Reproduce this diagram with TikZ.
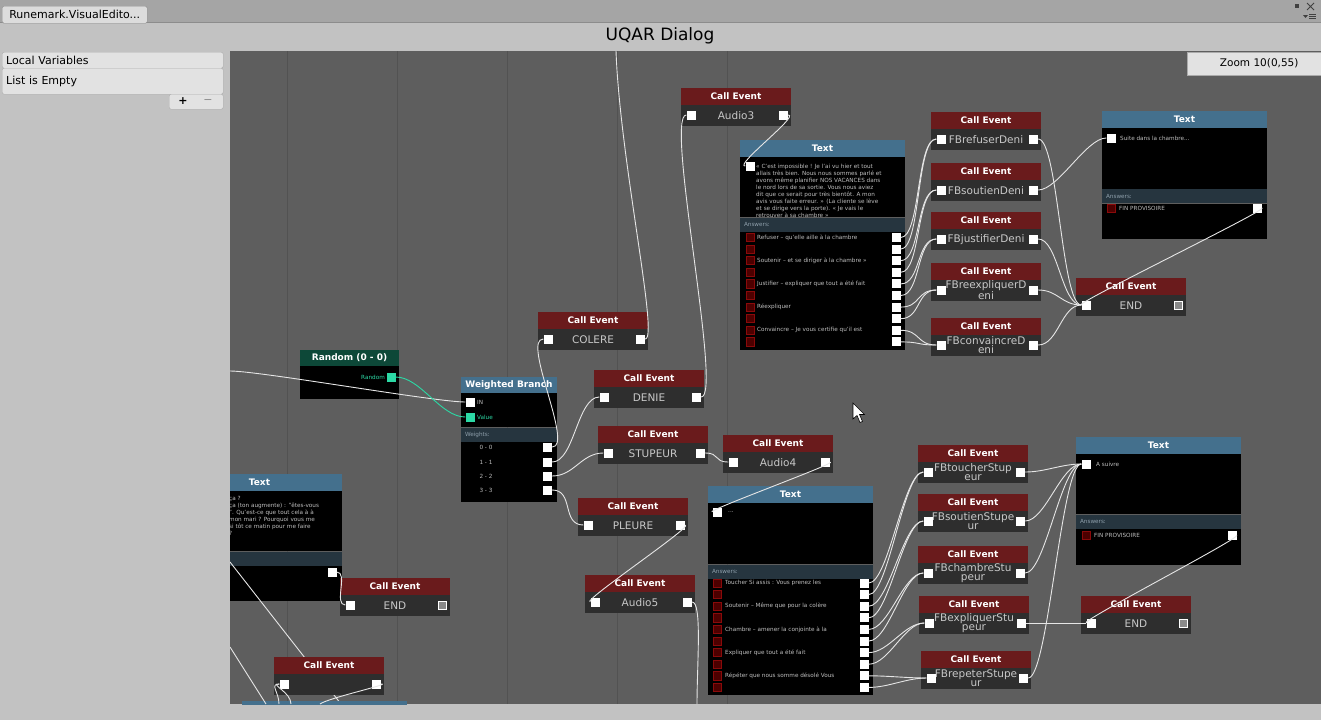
\documentclass[tikz,border=0pt]{standalone}
\usepackage{fontspec}
\setmainfont{DejaVu Sans}
\usetikzlibrary{positioning}

\definecolor{winbg}{HTML}{C2C2C2}
\definecolor{tabbar}{HTML}{A5A5A5}
\definecolor{tabedge}{HTML}{8C8C8C}
\definecolor{tabfill}{HTML}{DCDCDC}
\definecolor{panelfill}{HTML}{E2E2E2}
\definecolor{paneledge}{HTML}{ABABAB}
\definecolor{canvasbg}{HTML}{5E5E5E}
\definecolor{gridcol}{HTML}{525252}
\definecolor{evred}{HTML}{6A1B1C}
\definecolor{evgray}{HTML}{2E2E2E}
\definecolor{txblue}{HTML}{44708D}
\definecolor{ansbg}{HTML}{26353F}
\definecolor{ansfg}{HTML}{8FA0AC}
\definecolor{rndgreen}{HTML}{0D4838}
\definecolor{valteal}{HTML}{2CD9A5}
\definecolor{chkred}{HTML}{4D0000}
\definecolor{chkedge}{HTML}{8A0A0A}
\definecolor{lbl}{HTML}{C8C8C8}
\definecolor{paracol}{HTML}{BEBEBE}
\definecolor{offgray}{HTML}{8A8A8A}
\definecolor{wirecol}{HTML}{E6E6E6}

\pgfdeclarelayer{back}
\pgfdeclarelayer{wires}
\pgfsetlayers{back,main,wires}

% call event node: name, left x, top y, label, style of the out plug
\newcommand{\callev}[5]{%
  \node[evhead] (#1-h) at (#2+55,#3+8.5) {Call Event};
  \node[evbody] (#1) at (#2+55,#3+27.5) {#4};
  \node[plug] (#1-in) at (#2+10,#3+27) {};
  \node[#5] (#1-out) at (#2+102.5,#3+27) {};
}

\begin{document}
\begin{tikzpicture}[x=1pt,y=-1pt,
  evhead/.style={fill=evred, text=white, minimum width=110, minimum height=17, inner sep=0, font=\bfseries\fontsize{9}{9}\selectfont},
  evbody/.style={fill=evgray, text=lbl, minimum width=110, minimum height=21, inner sep=0, align=center, font=\fontsize{10.5}{9}\selectfont},
  plug/.style={fill=white, minimum size=9, inner sep=0},
  plugoff/.style={fill=offgray, draw=white, line width=0.8pt, minimum size=8.2, inner sep=0},
  chk/.style={fill=chkred, draw=chkedge, line width=0.8pt, minimum size=8.2, inner sep=0},
  txhead/.style={fill=txblue, text=white, minimum width=165, minimum height=17, inner sep=0, font=\bfseries\fontsize{9}{9}\selectfont},
  txbody/.style={fill=black, minimum width=165, inner sep=0},
  ansbar/.style={fill=ansbg, text=ansfg, minimum width=165, minimum height=14, inner xsep=4, inner ysep=0, text width=157, align=left, font=\fontsize{5.7}{7}\selectfont},
  para/.style={text=paracol, align=left, inner sep=0, font=\fontsize{5.7}{7}\selectfont},
  rowtxt/.style={text=paracol, inner sep=0, anchor=west, font=\fontsize{5.7}{7}\selectfont},
  panel/.style={fill=panelfill, draw=paneledge, rounded corners=2, minimum width=221, text width=213, inner xsep=4, inner ysep=0, align=left, anchor=north west, font=\fontsize{11}{11}\selectfont},
  wire/.style={draw=wirecol, line width=0.9pt},
  valwire/.style={draw=valteal, line width=0.9pt}]

\useasboundingbox (0,0) rectangle (1321,720);

\begin{pgfonlayer}{back}
  \fill[winbg] (0,0) rectangle (1321,720);
  \fill[canvasbg] (230,51) rectangle (1321,704);
  \foreach \gx in {287,397,...,727}
    \draw[gridcol] (\gx,51) -- (\gx,704);
\end{pgfonlayer}

% window
\fill[tabbar] (0,0) rectangle (1321,22);
\draw[tabedge] (0,22.5) -- (1321,22.5);
\node[fill=tabfill, draw=tabedge, rounded corners=1.5, minimum width=145, minimum height=17, inner sep=0, anchor=north west, font=\fontsize{11}{11}\selectfont] (tab) at (2,6) {Runemark.VisualEdito...};
\fill[black!75] (1295,4) rectangle (1299,8);
\draw[black!75, line width=0.8pt] (1307,3) -- (1314,10) (1307,10) -- (1314,3);
\fill[black!75] (1303,15) -- (1308,15) -- (1305.5,18) -- cycle;
\draw[black!75, line width=0.8pt] (1309,14) -- (1316,14) (1309,16) -- (1316,16) (1309,18) -- (1316,18);
\node[font=\fontsize{17}{17}\selectfont] (title) at (660,36) {UQAR Dialog};

% local variables
\node[panel, minimum height=16] (lv-h) at (2,52) {Local Variables};
\node[panel, minimum height=26] (lv-b) at (2,68) {List is Empty};
\node[panel, minimum width=54, text width=46, minimum height=15] (lv-f) at (169,94) {};
\node[font=\bfseries\fontsize{11}{11}\selectfont] (lv-add) at (183,101.5) {+};
\node[text=black!45, font=\fontsize{11}{11}\selectfont] (lv-rem) at (208,101.5) {−};

\coordinate (topcol) at (616,51);
\coordinate (lftin) at (230,371);
\coordinate (lft1) at (230,562);
\coordinate (lft2) at (230,647);
\coordinate (bot1) at (697,704);
\coordinate (bot2) at (279,704);
\coordinate (bot3) at (291,704);
\coordinate (bot4) at (320,704);
\coordinate (bot5) at (341,704);
\coordinate (bot6) at (266,704);

\begin{scope}
\clip (230,51) rectangle (1321,704);

% left text, cut by the border
\node[txhead] (te-h) at (259.5,482.5) {Text};
\node[txbody, minimum height=60, below=0pt of te-h] (te-b) {};
\node[para, anchor=north west] (te-txt) at (229,496) {ça ?\\ça (ton augmente) : "êtes-vous\\". Qu'est-ce que tout cela à à\\mon mari ? Pourquoi vous me\\si tôt ce matin pour me faire\\?};
\node[ansbar, below=0pt of te-b] (te-a) {Answers:};
\node[txbody, minimum height=35, below=0pt of te-a] (te-r) {};
\node[plug] (te-p) at (332,572) {};
\draw[wire] (lft1) -- (bot5);

\callev{bl}{274}{657}{}{plug}
\node[txhead] (tf-h) at (324.5,709.5) {Text};

% random + weighted branch
\node[txhead, fill=rndgreen, minimum width=99, minimum height=16] (rnd-h) at (349.5,358) {Random (0 - 0)};
\node[txbody, minimum width=99, minimum height=33, below=0pt of rnd-h] (rnd-b) {};
\node[plug, fill=valteal] (rnd-out) at (391,377) {};
\node[rowtxt, text=valteal, anchor=east] (rnd-l) at (385,377) {Random};

\node[txhead, minimum width=96, minimum height=16] (wb-h) at (509,385) {Weighted Branch};
\node[txbody, minimum width=96, minimum height=34, below=0pt of wb-h] (wb-b) {};
\node[ansbar, minimum width=96, text width=88, below=0pt of wb-b] (wb-a) {Weights:};
\node[txbody, minimum width=96, minimum height=60, below=0pt of wb-a] (wb-r) {};
\node[plug] (wb-in) at (470,402) {};
\node[plug, fill=valteal] (wb-val) at (470,417) {};
\node[rowtxt] (wb-inl) at (477,402) {IN};
\node[rowtxt, text=valteal] (wb-vall) at (477,417) {Value};
\node[plug] (wb-p0) at (547.5,447) {};
\node[plug] (wb-p1) at (547.5,462) {};
\node[plug] (wb-p2) at (547.5,476) {};
\node[plug] (wb-p3) at (547.5,490) {};
\node[rowtxt, anchor=center] (wb-l0) at (486,447) {0 - 0};
\node[rowtxt, anchor=center] (wb-l1) at (486,462) {1 - 1};
\node[rowtxt, anchor=center] (wb-l2) at (486,476) {2 - 2};
\node[rowtxt, anchor=center] (wb-l3) at (486,490) {3 - 3};

\callev{endl}{340}{578}{END}{plugoff}
\callev{audio3}{681}{88}{Audio3}{plug}
\callev{colere}{538}{312}{COLERE}{plug}
\callev{denie}{594}{370}{DENIE}{plug}
\callev{stupeur}{598}{426}{STUPEUR}{plug}
\callev{audio4}{723}{435}{Audio4}{plug}
\callev{pleure}{578}{498}{PLEURE}{plug}
\callev{audio5}{585}{575}{Audio5}{plug}

% text after the denial
\node[txhead] (ta-h) at (822.5,148.5) {Text};
\node[txbody, minimum height=60, below=0pt of ta-h] (ta-b) {};
\node[para, anchor=north west] (ta-txt) at (756,164) {« C'est impossible ! Je l'ai vu hier et tout\\allais très bien. Nous nous sommes parlé et\\avons même planifier NOS VACANCES dans\\le nord lors de sa sortie. Vous nous aviez\\dit que ce serait pour très bientôt. A mon\\avis vous faite erreur. » (La cliente se lève\\et se dirige vers la porte). « Je vais le\\retrouver à sa chambre »};
\node[ansbar, below=0pt of ta-b] (ta-a) {Answers:};
\node[txbody, minimum height=118, below=0pt of ta-a] (ta-r) {};
\node[plug] (ta-in) at (750,166) {};
\foreach \i in {0,...,9} {
  \node[chk] (ta-c\i) at (750,237.5+11.6*\i) {};
  \node[plug] (ta-p\i) at (896,237.5+11.6*\i) {};
}
\node[rowtxt] (ta-l0) at (757,237.5) {Refuser -- qu'elle aille à la chambre};
\node[rowtxt] (ta-l2) at (757,260.7) {Soutenir -- et se diriger à la chambre »};
\node[rowtxt] (ta-l4) at (757,283.9) {Justifier -- expliquer que tout a été fait};
\node[rowtxt] (ta-l6) at (757,307.1) {Réexpliquer};
\node[rowtxt] (ta-l8) at (757,330.3) {Convaincre --  Je vous certifie qu'il est};

\callev{refuser}{931}{112}{FBrefuserDeni}{plug}
\callev{soutien}{931}{163}{FBsoutienDeni}{plug}
\callev{justif}{931}{212}{FBjustifierDeni}{plug}
\callev{reexpl}{931}{263}{FBreexpliquerD\\eni}{plug}
\callev{convain}{931}{318}{FBconvaincreD\\eni}{plug}
\callev{enda}{1076}{278}{END}{plugoff}

\node[txhead] (tb-h) at (1184.5,119) {Text};
\node[txbody, minimum height=61, below=0pt of tb-h] (tb-b) {};
\node[ansbar, below=0pt of tb-b] (tb-a) {Answers:};
\node[txbody, minimum height=35, below=0pt of tb-a] (tb-r) {};
\node[plug] (tb-in) at (1111,138) {};
\node[rowtxt] (tb-txt) at (1120,138) {Suite dans la chambre...};
\node[chk] (tb-c) at (1111,208) {};
\node[rowtxt] (tb-l) at (1119,208) {FIN PROVISOIRE};
\node[plug] (tb-p) at (1257,208) {};

% text after the stupor
\node[txhead] (tc-h) at (790.5,494.5) {Text};
\node[txbody, minimum height=61, below=0pt of tc-h] (tc-b) {};
\node[ansbar, below=0pt of tc-b] (tc-a) {Answers:};
\node[txbody, minimum height=116, below=0pt of tc-a] (tc-r) {};
\node[plug] (tc-in) at (717,512) {};
\node[rowtxt] (tc-txt) at (728,512) {...};
\foreach \i in {0,...,9} {
  \node[chk] (tc-c\i) at (717.5,583+11.6*\i) {};
  \node[plug] (tc-p\i) at (864,583+11.6*\i) {};
}
\node[rowtxt] (tc-l0) at (725,583) {Toucher  Si assis : Vous prenez les};
\node[rowtxt] (tc-l2) at (725,606.2) {Soutenir --  Même que pour la colère};
\node[rowtxt] (tc-l4) at (725,629.4) {Chambre -- amener la conjointe à la};
\node[rowtxt] (tc-l6) at (725,652.6) {Expliquer que tout a été fait};
\node[rowtxt] (tc-l8) at (725,675.8) {Répéter que nous somme désolé Vous};

\callev{toucher}{918}{445}{FBtoucherStup\\eur}{plug}
\callev{soutiens}{918}{494}{FBsoutienStupe\\ur}{plug}
\callev{chambre}{918}{546}{FBchambreStu\\peur}{plug}
\callev{expliq}{919}{596}{FBexpliquerStu\\peur}{plug}
\callev{repeter}{921}{651}{FBrepeterStupe\\ur}{plug}
\callev{endb}{1081}{596}{END}{plugoff}

\node[txhead] (td-h) at (1158.5,445.5) {Text};
\node[txbody, minimum height=60, below=0pt of td-h] (td-b) {};
\node[ansbar, below=0pt of td-b] (td-a) {Answers:};
\node[txbody, minimum height=36, below=0pt of td-a] (td-r) {};
\node[plug] (td-in) at (1086,464) {};
\node[rowtxt] (td-txt) at (1096,464) {A suivre};
\node[chk] (td-c) at (1086,535) {};
\node[rowtxt] (td-l) at (1094,535) {FIN PROVISOIRE};
\node[plug] (td-p) at (1232,535) {};

% mouse pointer
\draw[fill=white, line width=0.6pt] (853,403) -- (853,419) -- (857,415.5) -- (860,422.5) -- (862.5,421.5) -- (859.5,414.5) -- (864.5,414.5) -- cycle;
\end{scope}

\begin{pgfonlayer}{wires}
\begin{scope}
\clip (230,51) rectangle (1321,704);
\draw[wire] (lftin) .. controls +(30,0) and +(-30,0) .. (wb-in.west);
\draw[wire] (colere-out.east) .. controls +(14,0) and +(4,110) .. (topcol);
\draw[wire] (denie-out.east) .. controls +(22,0) and +(-22,0) .. (audio3-in.west);
\draw[wire] (audio3-out.east) .. controls +(12,0) and +(-12,0) .. (ta-in.west);
\foreach \p/\q in {0/refuser,1/refuser,2/soutien,3/soutien,4/justif,5/justif,6/reexpl,7/reexpl,8/convain,9/convain}
  \draw[wire] (ta-p\p.east) .. controls +(20,0) and +(-20,0) .. (\q-in.west);
\foreach \q in {refuser,justif,reexpl,convain}
  \draw[wire] (\q-out.east) .. controls +(20,0) and +(-20,0) .. (enda-in.west);
\draw[wire] (soutien-out.east) .. controls +(20,0) and +(-20,0) .. (tb-in.west);
\draw[wire] (tb-p.east) .. controls +(10,0) and +(-10,0) .. (enda-in.west);
\draw[valwire] (rnd-out.east) .. controls +(25,0) and +(-25,0) .. (wb-val.west);
\draw[wire] (wb-p0.east) .. controls +(22,0) and +(-22,0) .. (colere-in.west);
\draw[wire] (wb-p1.east) .. controls +(22,0) and +(-22,0) .. (denie-in.west);
\draw[wire] (wb-p2.east) .. controls +(22,0) and +(-22,0) .. (stupeur-in.west);
\draw[wire] (wb-p3.east) .. controls +(22,0) and +(-22,0) .. (pleure-in.west);
\draw[wire] (stupeur-out.east) .. controls +(15,0) and +(-15,0) .. (audio4-in.west);
\draw[wire] (audio4-out.east) .. controls +(10,0) and +(-10,0) .. (tc-in.west);
\draw[wire] (pleure-out.east) .. controls +(10,0) and +(-10,0) .. (audio5-in.west);
\draw[wire] (audio5-out.east) .. controls +(10,0) and +(0,-40) .. (bot1);
\foreach \p/\q in {0/toucher,1/toucher,2/soutiens,3/soutiens,4/chambre,5/chambre,6/expliq,7/expliq,8/repeter,9/repeter}
  \draw[wire] (tc-p\p.east) .. controls +(20,0) and +(-20,0) .. (\q-in.west);
\foreach \q in {toucher,soutiens,chambre,repeter}
  \draw[wire] (\q-out.east) .. controls +(20,0) and +(-20,0) .. (td-in.west);
\draw[wire] (expliq-out.east) .. controls +(20,0) and +(-20,0) .. (endb-in.west);
\draw[wire] (td-p.east) .. controls +(10,0) and +(-10,0) .. (endb-in.west);
\draw[wire] (te-p.east) .. controls +(12,0) and +(-12,0) .. (endl-in.west);
\draw[wire] (bot2) .. controls +(0,-12) and +(-10,0) .. (bl-in.west);
\draw[wire] (bot3) .. controls +(0,-12) and +(-10,0) .. (bl-in.west);
\draw[wire] (bl-out.east) .. controls +(10,0) and +(8,-6) .. (bot4);
\draw[wire] (lft2) -- (bot6);
\end{scope}
\end{pgfonlayer}

% zoom label
\node[fill=panelfill, draw=paneledge, minimum width=134, minimum height=23, inner sep=0, anchor=north west, font=\fontsize{10.5}{10.5}\selectfont] (zoom) at (1187,52) {\hspace{10pt}Zoom 10(0,55)};
\end{tikzpicture}
\end{document}
